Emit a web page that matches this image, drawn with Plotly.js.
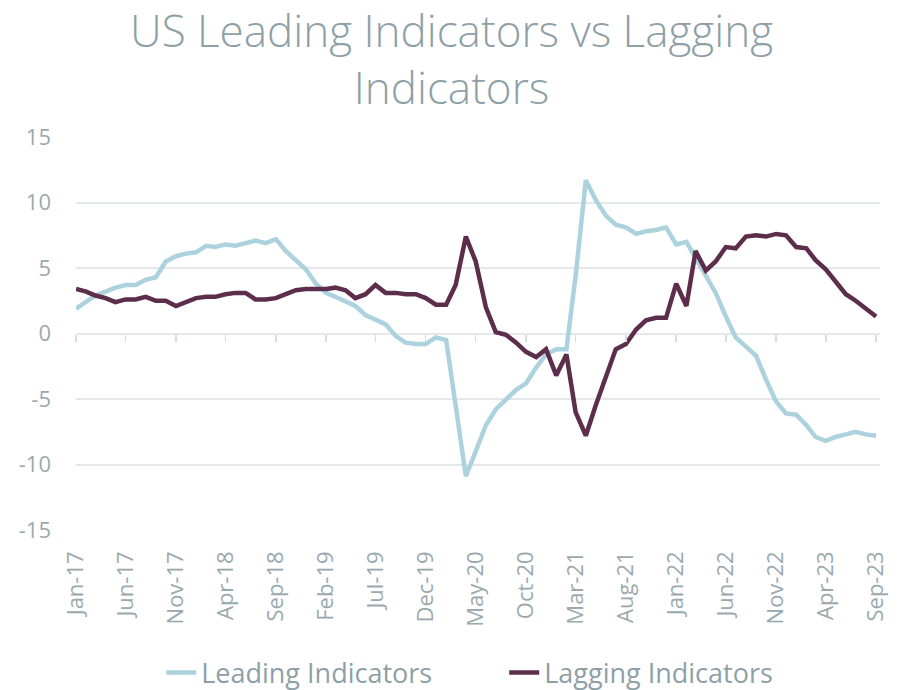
<!DOCTYPE html>
<html>
<head>
<meta charset="utf-8">
<script src="https://cdn.plot.ly/plotly-3.0.1.min.js"></script>
<style>html,body{margin:0;padding:0;background:#fff;}#chart{width:903px;height:690px;}</style>
</head>
<body>
<div id="chart"></div>
<script>
// Monthly, Jan 2017 .. Sep 2023
const startYear = 2017, startMonth = 1, monthCount = 81;
const months = [];
for (let k = 0; k < monthCount; k++) {
  const y = startYear + Math.floor((startMonth - 1 + k) / 12);
  const m = (startMonth - 1 + k) % 12 + 1;
  months.push(y + '-' + String(m).padStart(2, '0') + '-01');
}

const leadingIndicators = [
  1.9, 2.4, 2.9, 3.2, 3.5, 3.7, 3.7, 4.1, 4.3, 5.5,
  5.9, 6.1, 6.2, 6.7, 6.6, 6.8, 6.7, 6.9, 7.1, 6.9,
  7.2, 6.3, 5.6, 4.9, 3.8, 3.1, 2.8, 2.4, 2.1, 1.4,
  1.1, 0.7, -0.2, -0.7, -0.8, -0.8, -0.3, -0.5, -5.5, -10.9,
  -9.0, -7.0, -5.8, -5.0, -4.3, -3.8, -2.6, -1.6, -1.2, -1.2,
  4.4, 11.7, 10.2, 9.0, 8.3, 8.1, 7.6, 7.8, 7.9, 8.1,
  6.8, 7.0, 5.8, 4.5, 3.1, 1.3, -0.3, -1.0, -1.7, -3.5,
  -5.2, -6.1, -6.2, -7.0, -7.9, -8.2, -7.9, -7.7, -7.5, -7.7,
  -7.8
];

const laggingIndicators = [
  3.4, 3.2, 2.9, 2.7, 2.4, 2.6, 2.6, 2.8, 2.5, 2.5,
  2.1, 2.4, 2.7, 2.8, 2.8, 3.0, 3.1, 3.1, 2.6, 2.6,
  2.7, 3.0, 3.3, 3.4, 3.4, 3.4, 3.5, 3.3, 2.7, 3.0,
  3.7, 3.1, 3.1, 3.0, 3.0, 2.7, 2.2, 2.2, 3.7, 7.4,
  5.5, 2.0, 0.1, -0.1, -0.7, -1.4, -1.8, -1.2, -3.2, -1.6,
  -6.0, -7.8, -5.5, -3.2, -1.2, -0.8, 0.3, 1.0, 1.2, 1.2,
  3.8, 2.1, 6.3, 4.8, 5.5, 6.6, 6.5, 7.4, 7.5, 7.4,
  7.6, 7.5, 6.6, 6.5, 5.6, 4.9, 3.9, 3.0, 2.5, 1.9,
  1.3
];

const yTickVals = [15, 10, 5, 0, -5, -10, -15];

const textColor = '#9aa9ae';
const gridColor = '#e4e8ea';
const fontFamily = '"Open Sans", "Noto Sans", sans-serif';

const traces = [
  {
    x: months, y: leadingIndicators, name: 'Leading Indicators',
    type: 'scatter', mode: 'lines',
    line: {color: '#acd2dd', width: 4.5}
  },
  {
    x: months, y: laggingIndicators, name: 'Lagging Indicators',
    type: 'scatter', mode: 'lines',
    line: {color: '#5c2e4c', width: 4.5}
  },
  {
    x: [months[0]], y: [0], xaxis: 'x2', yaxis: 'y',
    type: 'scatter', mode: 'markers', marker: {opacity: 0},
    showlegend: false, hoverinfo: 'skip'
  }
];

const xRange = ['2017-01-01', '2023-09-13'];

const layout = {
  width: 903, height: 690,
  paper_bgcolor: '#ffffff', plot_bgcolor: '#ffffff',
  margin: {l: 76, r: 23, t: 137, b: 160, autoexpand: false},
  font: {family: fontFamily, color: textColor},
  title: {
    text: 'US Leading Indicators vs Lagging<br>Indicators',
    font: {family: fontFamily, size: 44, color: '#8e9fa6', weight: 300},
    x: 0.5, xanchor: 'center', y: 0.932, yanchor: 'top'
  },
  xaxis: {
    type: 'date', range: xRange,
    tick0: '2017-01-01', dtick: 'M5', tickformat: '%b-%y',
    tickangle: -90, showgrid: false, zeroline: false, showline: false,
    ticks: '', ticklabelstandoff: 16,
    tickfont: {family: fontFamily, size: 22, color: textColor}
  },
  xaxis2: {
    type: 'date', range: xRange, overlaying: 'x', anchor: 'free', position: 0.5,
    tick0: '2017-01-01', dtick: 'M5',
    showticklabels: false, showgrid: false, zeroline: false, showline: false,
    ticks: 'outside', ticklen: 7, tickwidth: 1.5, tickcolor: '#d8dde0'
  },
  yaxis: {
    range: [-15, 15], tickvals: yTickVals, ticktext: yTickVals.map(String),
    showgrid: true, gridcolor: gridColor, gridwidth: 2,
    zeroline: true, zerolinecolor: gridColor, zerolinewidth: 2,
    showline: false, ticks: '', ticklabelstandoff: 24,
    tickfont: {family: fontFamily, size: 22, color: textColor}
  },
  legend: {
    orientation: 'h', x: 0.106, xanchor: 'left', y: -0.364, yanchor: 'middle',
    font: {family: fontFamily, size: 27, color: '#8e9fa6'},
    entrywidth: 298, entrywidthmode: 'pixels',
    tracegroupgap: 0
  },
  showlegend: true
};

Plotly.newPlot('chart', traces, layout, {displayModeBar: false, staticPlot: true});
</script>
</body>
</html>
